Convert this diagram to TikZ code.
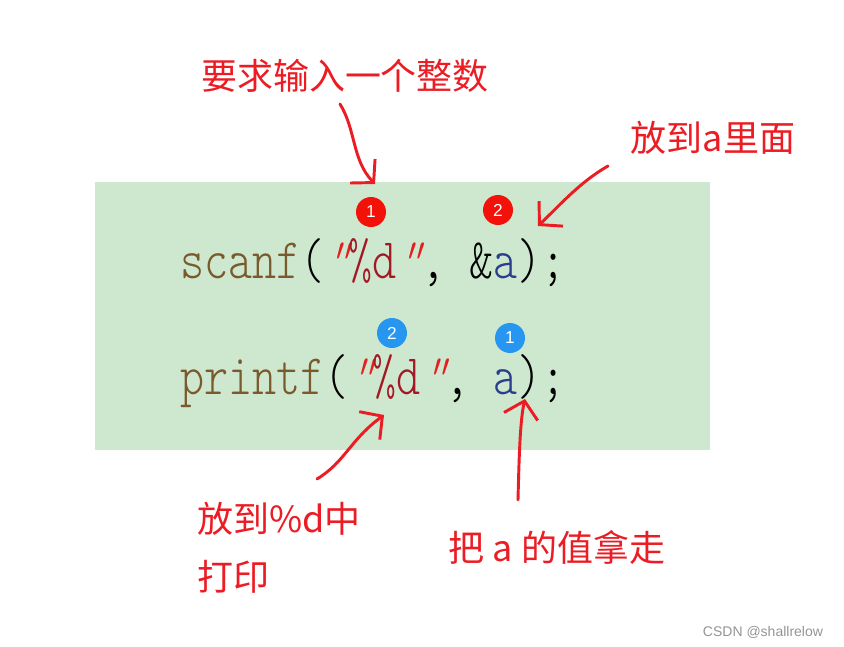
\documentclass[tikz,border=0pt]{standalone}
\usepackage{fontspec}
\usetikzlibrary{arrows.meta}
\newfontfamily\cjkfont{Noto Sans CJK SC}
\newfontfamily\codefont[FakeStretch=0.80]{lmmonolt10-regular.otf}
\newfontfamily\quotefont[FakeStretch=0.80,FakeSlant=0.3]{lmmonolt10-regular.otf}
\newfontfamily\markfont{Liberation Sans}
\definecolor{boxgreen}{RGB}{205,232,207}
\definecolor{handred}{RGB}{236,28,36}
\definecolor{fncol}{RGB}{122,90,44}
\definecolor{fmtcol}{RGB}{163,24,36}
\definecolor{quotecol}{RGB}{230,30,30}
\definecolor{varcol}{RGB}{42,62,140}
\definecolor{badgered}{RGB}{242,18,10}
\definecolor{badgeblue}{RGB}{38,150,240}
\tikzset{%
  codeline/.style={inner sep=0pt, anchor=base west, font=\codefont\fontsize{43}{48}\selectfont},
  note/.style={inner sep=0pt, text=handred, font=\cjkfont\fontsize{27}{43.5}\selectfont},
  badge/.style={circle, inner sep=0pt, minimum size=22.5pt, text=white, font=\markfont\fontsize{13}{13}\selectfont},
  hand/.style={draw=handred, line width=2.2pt, line cap=round, line join=round,
    -{Straight Barb[length=12pt, width=26pt]}},
}
\newcommand{\qm}{\textcolor{quotecol}{\quotefont"}}

\begin{document}
\begin{tikzpicture}[x=0.75pt, y=-0.75pt]
  \useasboundingbox (0,0) rectangle (844,647);
  % code area
  \fill[boxgreen] (95,182) rectangle (710,450);
  \node[codeline] (scanline) at (180,278)
    {\textcolor{fncol}{scanf}(\qm\textcolor{fmtcol}{\%d}\qm, \&\textcolor{varcol}{a});};
  \node[codeline] (printline) at (180,394)
    {\textcolor{fncol}{printf}(\qm\textcolor{fmtcol}{\%d}\qm, \textcolor{varcol}{a});};
  % numbered marks
  \foreach \n/\x/\y/\c [count=\i] in {1/371/212/badgered, 2/498/210/badgered,
                                     2/392/333/badgeblue, 1/510/338/badgeblue}{
    \node[badge, fill=\c] (mark\i) at (\x,\y) {\n};
  }
  % notes
  \node[note] (askint) at (345,76) {要求输入一个整数};
  \node[note] (intoa) at (713,138) {放到a里面};
  \node[note, anchor=north west, align=left] (intod) at (197,502) {放到\%d中\\打印};
  \node[note] (takea) at (557,547) {把 a 的值拿走};
  \node[inner sep=0pt, text=black!42, font=\markfont\fontsize{10.5}{12}\selectfont] (wmark) at (763,632) {CSDN @shallrelow};
  % hand drawn arrows
  \coordinate (a1s) at (340,104);
  \coordinate (a1t) at (375,184);
  \coordinate (a2s) at (608,166);
  \coordinate (a2t) at (538,226);
  \coordinate (a3s) at (317,479);
  \coordinate (a3t) at (384,415);
  \coordinate (a4s) at (518,500);
  \coordinate (a4t) at (525,399);
  \draw[hand] (a1s) .. controls (356,130) and (352,160) .. (a1t);
  \draw[hand] (a2s) .. controls (580,182) and (560,205) .. (a2t);
  \draw[hand] (a3s) .. controls (345,462) and (350,440) .. (a3t);
  \draw[hand] (a4s) .. controls (519,460) and (520,420) .. (a4t);
\end{tikzpicture}
\end{document}
